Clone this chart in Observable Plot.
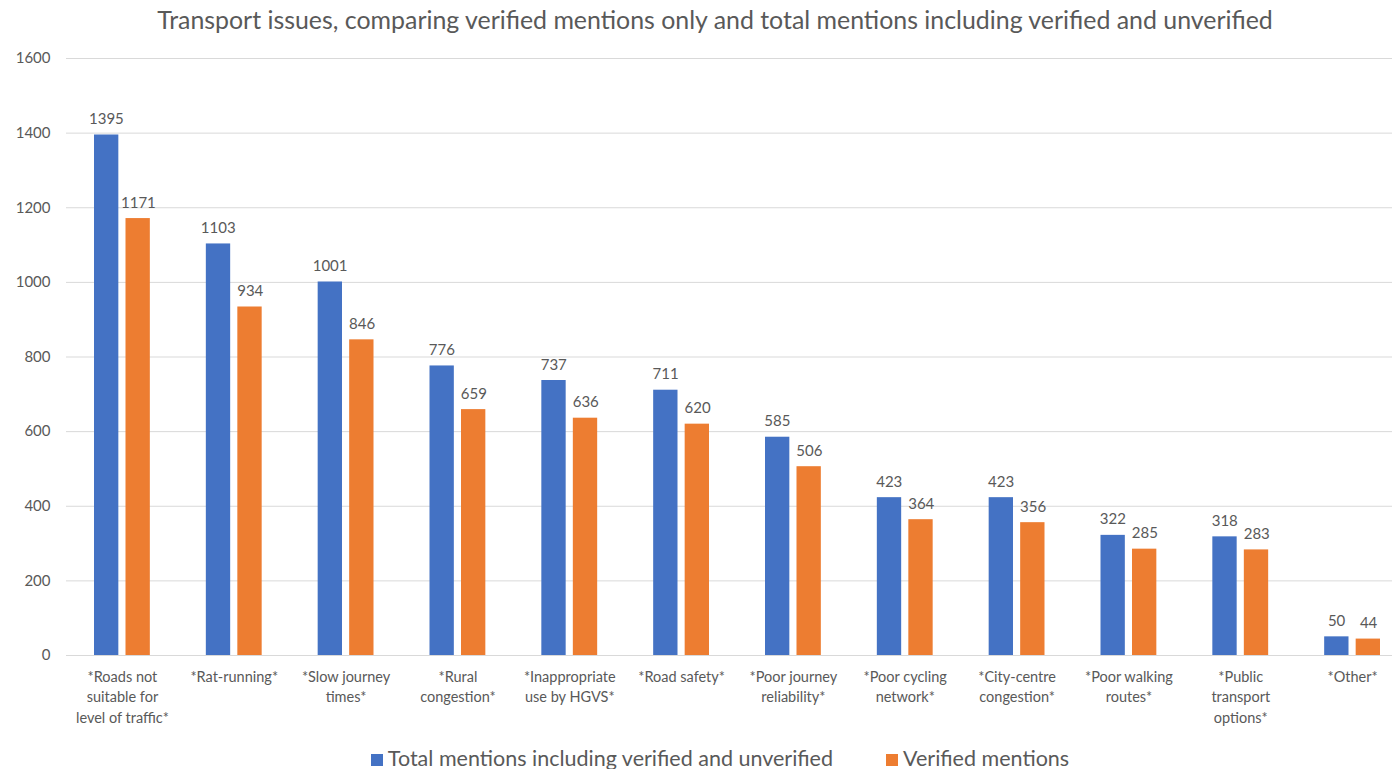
<!DOCTYPE html>
<html>
<head>
<meta charset="utf-8">
<script src="https://cdn.jsdelivr.net/npm/d3@7"></script>
<script src="https://cdn.jsdelivr.net/npm/@observablehq/plot@0.6"></script>
<style>
  html, body { margin: 0; padding: 0; background: #fff; overflow: hidden; width: 1392px; height: 769px; }
  body { font-family: Lato, "Open Sans", sans-serif; color: #595959; position: relative; }
  #title { position: absolute; top: 0; left: 0; width: 1430px; height: 39px; line-height: 39px; text-align: center; font-size: 24.9px; color: #595959; white-space: nowrap; }
  #chart { position: absolute; top: 40px; left: 0; width: 1410px; }
  #chart svg { max-width: none !important; }
  #legend { position: absolute; top: 740px; left: 0; width: 1440px; height: 36px; line-height: 36px; text-align: center; font-size: 21.5px; color: #595959; white-space: nowrap; }
  .sw { display: inline-block; width: 12px; height: 12px; margin-right: 5px; vertical-align: 0px; }
  .item { display: inline-block; margin: 0 26.5px; }
</style>
</head>
<body>
<div id="title">Transport issues, comparing verified mentions only and total mentions including verified and unverified</div>
<div id="chart"></div>
<div id="legend"></div>
<script>
const categories = ["Roads not suitable", "Rat-running", "Slow journey times", "Rural congestion", "Inappropriate use by HGVS", "Road safety", "Poor journey reliability", "Poor cycling network", "City-centre congestion", "Poor walking routes", "Public transport options", "Other"];
const tickLabels = ["*Roads not\nsuitable for\nlevel of traffic*", "*Rat-running*", "*Slow journey\ntimes*", "*Rural\ncongestion*", "*Inappropriate\nuse by HGVS*", "*Road safety*", "*Poor journey\nreliability*", "*Poor cycling\nnetwork*", "*City-centre\ncongestion*", "*Poor walking\nroutes*", "*Public\ntransport\noptions*", "*Other*"];
const seriesNames = ["Total mentions including verified and unverified", "Verified mentions"];
const totalMentions = [1395, 1103, 1001, 776, 737, 711, 585, 423, 423, 322, 318, 50];
const verifiedMentions = [1171, 934, 846, 659, 636, 620, 506, 364, 356, 285, 283, 44];
const yTicks = [0, 200, 400, 600, 800, 1000, 1200, 1400, 1600];
const colors = ["#4472C4", "#ED7D31"];

const totalRows = categories.map((c, i) => ({category: c, value: totalMentions[i]}));
const verifiedRows = categories.map((c, i) => ({category: c, value: verifiedMentions[i]}));

const textColor = "#595959";
const font = "Lato, 'Open Sans', sans-serif";

const chart = Plot.plot({
  width: 1410,
  height: 700,
  marginLeft: 66,
  marginRight: 2,
  marginTop: 18,
  marginBottom: 85,
  style: {fontFamily: font, color: textColor, background: "transparent", maxWidth: "none"},
  x: {domain: categories, padding: 0, round: false},
  y: {domain: [0, 1600]},
  marks: [
    Plot.gridY(yTicks, {stroke: "#D9D9D9", strokeOpacity: 1, strokeWidth: 1}),
    Plot.axisY(yTicks, {tickSize: 0, tickPadding: 16, fontSize: 15, fill: textColor, label: null, tickFormat: d => String(d)}),
    Plot.axisX({tickSize: 0, tickPadding: 12, fontSize: 14.5, lineHeight: 1.4, fill: textColor, label: null,
      tickFormat: d => tickLabels[categories.indexOf(d)]}),
    Plot.barY(totalRows, {x: "category", y: "value", fill: colors[0], insetLeft: 28, insetRight: 59.5}),
    Plot.barY(verifiedRows, {x: "category", y: "value", fill: colors[1], insetLeft: 59.5, insetRight: 28}),
    Plot.text(totalRows, {x: "category", y: "value", text: d => String(d.value), dx: -16, dy: -11, lineAnchor: "bottom", fontSize: 15, fill: textColor}),
    Plot.text(verifiedRows, {x: "category", y: "value", text: d => String(d.value), dx: 16, dy: -11, lineAnchor: "bottom", fontSize: 15, fill: textColor})
  ]
});
chart.style.maxWidth = "none";
document.getElementById("chart").appendChild(chart);

const legend = document.getElementById("legend");
seriesNames.forEach((name, i) => {
  const item = document.createElement("span");
  item.className = "item";
  const sw = document.createElement("span");
  sw.className = "sw";
  sw.style.background = colors[i];
  item.appendChild(sw);
  item.appendChild(document.createTextNode(name));
  legend.appendChild(item);
});
</script>
</body>
</html>
